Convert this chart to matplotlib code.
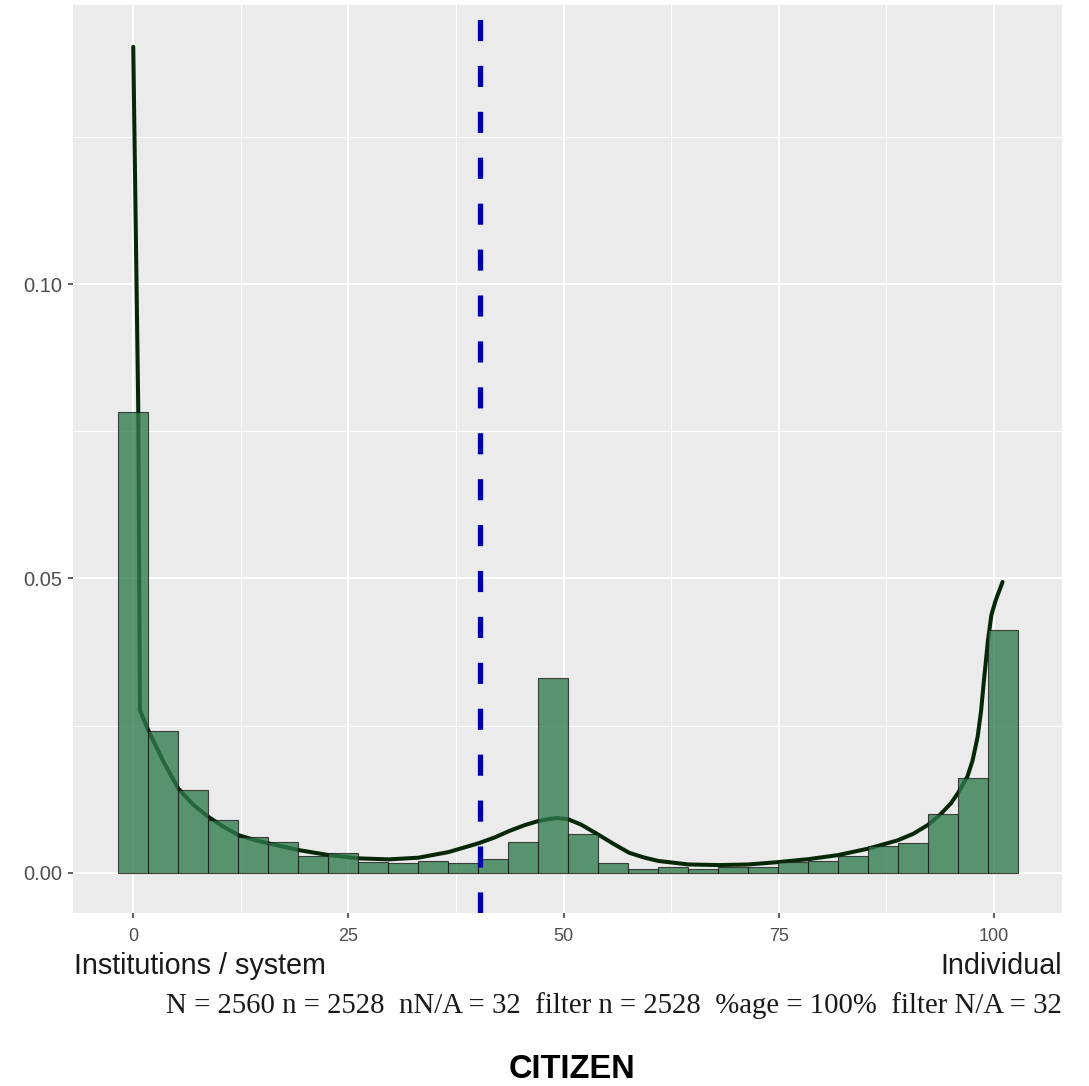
import numpy as np
import matplotlib.pyplot as plt

# histogram: 30 bins spanning the data range 0..101 (density scale)
n_bins = 30
data_min, data_max = 0, 101
bar_heights = [0.0783, 0.0240, 0.0140, 0.0089, 0.0061, 0.0053, 0.0028, 0.0034,
               0.0019, 0.0016, 0.0020, 0.0016, 0.0023, 0.0052, 0.0331, 0.0066,
               0.0017, 0.0007, 0.0009, 0.0007, 0.0010, 0.0010, 0.0019, 0.0020,
               0.0028, 0.0046, 0.0051, 0.0100, 0.0161, 0.0412]

# density curve
dens_x = [0, 0.58, 0.78, 1.74, 3.5, 5.23, 7.0, 8.72, 10.5, 12.2, 14.0, 15.7,
          17.5, 19.2, 22.7, 26.2, 29.7, 33.1, 36.6, 40.1, 42.0, 43.7, 45.5,
          47.1, 48.2, 49.2, 50.5, 52.0, 54.0, 55.8, 57.6, 59.3, 61.0, 64.5,
          68.0, 71.4, 74.9, 78.4, 81.9, 85.4, 88.8, 90.6, 92.3, 93.7, 95.0,
          95.8, 96.9, 97.5, 98.1, 98.5, 98.8, 99.3, 99.7, 100.2, 101.0]
dens_y = [0.1403, 0.0790, 0.0276, 0.0242, 0.0189, 0.0143, 0.0115, 0.0095,
          0.0078, 0.0064, 0.0056, 0.0050, 0.0044, 0.00385, 0.0030, 0.00244,
          0.00227, 0.00255, 0.0035, 0.0050, 0.0060, 0.0071, 0.0081, 0.0088,
          0.0091, 0.0093, 0.0091, 0.0082, 0.0065, 0.0049, 0.0034, 0.0026,
          0.0020, 0.00141, 0.0013, 0.0014, 0.0018, 0.0023, 0.0030, 0.0041,
          0.0055, 0.0066, 0.0081, 0.0098, 0.0118, 0.0135, 0.0163, 0.0190,
          0.0231, 0.0275, 0.0322, 0.0395, 0.0438, 0.0463, 0.0494]

mean_value = 40.27

x_ticks = [0, 25, 50, 75, 100]
y_ticks = [0.00, 0.05, 0.10]
y_tick_labels = ["0.00", "0.05", "0.10"]

left_label = "Institutions / system"
right_label = "Individual"
stats_text = "N = 2560 n = 2528  nN/A = 32  filter n = 2528  %age = 100%  filter N/A = 32"
title = "CITIZEN"

W, H = 1089, 1086
fig = plt.figure(figsize=(W / 100, H / 100), dpi=100)
ax = fig.add_axes([73 / W, 1 - 913 / H, (1062 - 73) / W, (913 - 5) / H])
ax.set_facecolor('#EBEBEB')
for s in ax.spines.values():
    s.set_visible(False)

binw = (data_max - data_min) / (n_bins - 1)
centers = data_min + np.arange(n_bins) * binw

# density line under the semi-transparent bars
ax.plot(dens_x, dens_y, color='#062806', lw=2.9, zorder=2,
        solid_capstyle='round', solid_joinstyle='round')
ax.bar(centers, bar_heights, width=binw, color='#2f7a4c', alpha=0.78,
       edgecolor='#1a1a1a', linewidth=0.8, zorder=3)
ax.axvline(mean_value, color='#0000A8', lw=3.8, linestyle=(0, (4.0, 4.7)), zorder=4)

ax.set_xlim(-7.0, 107.9)
ax.set_ylim(-0.00684, 0.1474)

ax.set_xticks(x_ticks)
ax.set_xticklabels([str(t) for t in x_ticks])
ax.set_xticks([12.5, 37.5, 62.5, 87.5], minor=True)
ax.set_yticks(y_ticks)
ax.set_yticklabels(y_tick_labels)
ax.set_yticks([0.025, 0.075, 0.125], minor=True)

ax.grid(which='major', color='white', lw=1.5, zorder=0)
ax.grid(which='minor', color='white', lw=0.75, zorder=0)
ax.set_axisbelow(True)

ax.tick_params(which='major', length=3.6, width=1.1, color='#333333',
               labelcolor='#4D4D4D')
ax.tick_params(axis='x', which='major', pad=7, labelsize=13)
ax.tick_params(axis='y', which='major', pad=4, labelsize=14.5)
ax.tick_params(which='minor', length=0)
for lab in ax.get_xticklabels() + ax.get_yticklabels():
    lab.set_fontfamily('Liberation Sans')

fig.text(74 / W, 1 - 974 / H, left_label, ha='left', va='baseline',
         fontsize=20.7, family='Liberation Sans', color='#1a1a1a')
fig.text(1062 / W, 1 - 974 / H, right_label, ha='right', va='baseline',
         fontsize=20.7, family='Liberation Sans', color='#1a1a1a')
fig.text(1062 / W, 1 - 1013 / H, stats_text, ha='right', va='baseline',
         fontsize=20.7, family='Liberation Serif', color='#1a1a1a')
fig.text(571.5 / W, 1 - 1078 / H, title, ha='center', va='baseline',
         fontsize=23.5, family='Liberation Sans', fontweight='bold', color='black')

fig.savefig('out.png', dpi=100, facecolor='white')
